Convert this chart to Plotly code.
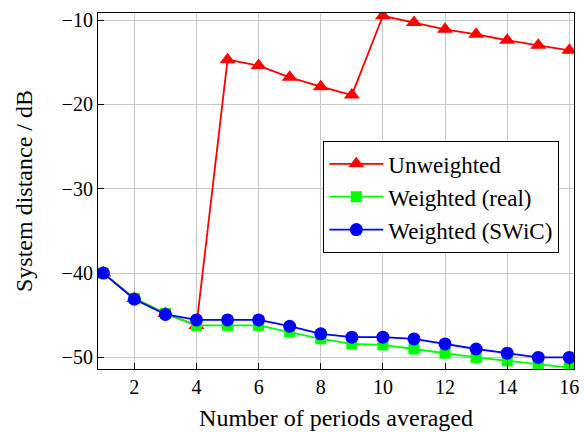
import plotly.graph_objects as go

periods = list(range(1, 17))
unweighted = [-40.0, -43.0, -44.8, -46.2, -14.7, -15.4, -16.8, -17.9, -18.9,
              -9.5, -10.3, -11.1, -11.7, -12.4, -13.0, -13.6]
weighted_real = [-40.0, -43.0, -44.8, -46.2, -46.2, -46.2, -47.0, -47.8, -48.4,
                 -48.5, -49.0, -49.5, -50.0, -50.4, -50.8, -51.2]
weighted_swic = [-40.0, -43.1, -44.9, -45.55, -45.55, -45.55, -46.3, -47.2, -47.6,
                 -47.6, -47.8, -48.4, -49.0, -49.5, -50.0, -50.0]
x_ticks = [2, 4, 6, 8, 10, 12, 14, 16]
y_ticks = [-50, -40, -30, -20, -10]
y_tick_text = ["\u221250", "\u221240", "\u221230", "\u221220", "\u221210"]

font_family = "Liberation Serif, Times New Roman, Times, serif"

fig = go.Figure()
fig.add_trace(go.Scatter(x=periods, y=unweighted, mode="lines+markers", name="Unweighted",
                         line=dict(color="#ff0000", width=1.8),
                         marker=dict(symbol="triangle-up", size=14, color="#ff0000")))
fig.add_trace(go.Scatter(x=periods, y=weighted_real, mode="lines+markers", name="Weighted (real)",
                         line=dict(color="#00ff00", width=1.8),
                         marker=dict(symbol="square", size=11, color="#00ff00")))
fig.add_trace(go.Scatter(x=periods, y=weighted_swic, mode="lines+markers", name="Weighted (SWiC)",
                         line=dict(color="#0000ff", width=1.8),
                         marker=dict(symbol="circle", size=13, color="#0000ff")))

axis_common = dict(showline=True, linecolor="black", linewidth=1.2, mirror=True,
                   showgrid=True, gridcolor="#c8c8c8", gridwidth=1, zeroline=False,
                   ticks="inside", ticklen=6, tickcolor="black", automargin=False,
                   tickfont=dict(family=font_family, size=20, color="black"))

fig.update_xaxes(range=[0.83, 16.15], tickvals=x_ticks,
                 title=dict(text="Number of periods averaged",
                            font=dict(family=font_family, size=24, color="black"), standoff=12),
                 **axis_common)
fig.update_yaxes(range=[-51.37, -9.17], tickvals=y_ticks, ticktext=y_tick_text,
                 title=dict(text="System distance / dB",
                            font=dict(family=font_family, size=24, color="black"), standoff=22),
                 **axis_common)

fig.update_layout(
    width=584, height=432,
    margin=dict(l=98, r=10, t=13, b=63),
    paper_bgcolor="white", plot_bgcolor="white",
    font=dict(family=font_family, color="black"),
    showlegend=True,
    legend=dict(x=0.473, y=0.64, xanchor="left", yanchor="top",
                bgcolor="white", bordercolor="black", borderwidth=1.2,
                font=dict(family=font_family, size=23, color="black"),
                itemwidth=54, tracegroupgap=0),
)

fig.write_html("out.html", config={"displayModeBar": False},
               post_script="document.body.style.margin='0';")
